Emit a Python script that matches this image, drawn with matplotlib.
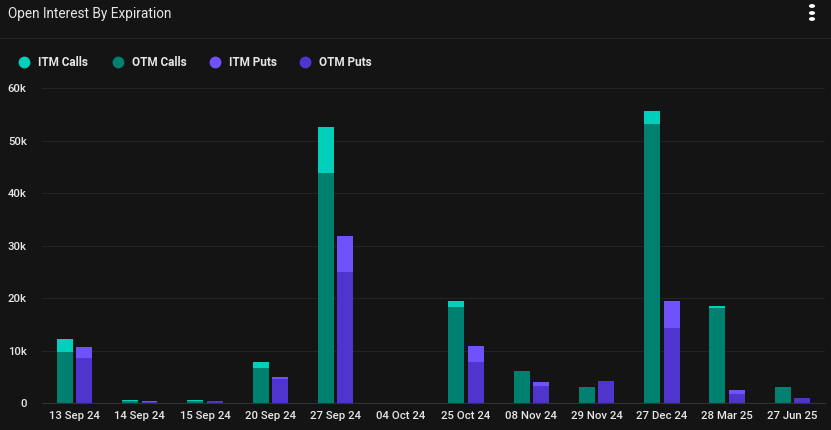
import matplotlib
matplotlib.use("Agg")
import matplotlib.pyplot as plt
import numpy as np
from matplotlib.ticker import FuncFormatter, MultipleLocator

plt.rcParams['font.family'] = ['Roboto', 'DejaVu Sans']

categories = ["13 Sep 24", "14 Sep 24", "15 Sep 24", "20 Sep 24", "27 Sep 24", "04 Oct 24",
              "25 Oct 24", "08 Nov 24", "29 Nov 24", "27 Dec 24", "28 Mar 25", "27 Jun 25"]
otm_calls = [9700, 400, 350, 6700, 43900, 0, 18300, 6000, 3000, 53100, 18100, 3000]
itm_calls = [2500, 200, 150, 1100, 8600, 0, 1100, 100, 100, 2500, 400, 100]
otm_puts = [8600, 250, 350, 4600, 24900, 0, 7800, 3300, 4200, 14200, 1700, 900]
itm_puts = [2100, 50, 50, 400, 6900, 0, 3100, 700, 50, 5300, 800, 100]

BG = "#141414"
C_ITM_CALL = "#00CFBC"
C_OTM_CALL = "#00806F"
C_ITM_PUT = "#7052FA"
C_OTM_PUT = "#4F35CE"
TXT = "#E6E6E6"

fig = plt.figure(figsize=(8.31, 4.30), dpi=100, facecolor=BG)
ax = fig.add_axes([0.0505, 0.0628, 0.9423, 0.7325], facecolor=BG)

x = np.arange(len(categories))
w = 0.245
off = 0.148
ax.bar(x - off, otm_calls, w, color=C_OTM_CALL, zorder=3, linewidth=0)
ax.bar(x - off, itm_calls, w, bottom=otm_calls, color=C_ITM_CALL, zorder=3, linewidth=0)
ax.bar(x + off, otm_puts, w, color=C_OTM_PUT, zorder=3, linewidth=0)
ax.bar(x + off, itm_puts, w, bottom=otm_puts, color=C_ITM_PUT, zorder=3, linewidth=0)

ax.set_xlim(-0.5, len(categories) - 0.5)
ax.set_ylim(0, 60000)
ax.yaxis.set_major_locator(MultipleLocator(10000))
ax.yaxis.set_major_formatter(FuncFormatter(lambda v, p: "0" if v == 0 else f"{int(v/1000)}k"))
ax.set_xticks(x)
ax.set_xticklabels(categories)
ax.tick_params(axis='both', length=0, colors=TXT, labelsize=8.2)
ax.tick_params(axis='y', pad=11)
ax.tick_params(axis='x', pad=6)
for lab in ax.get_xticklabels() + ax.get_yticklabels():
    lab.set_fontweight('medium')

ax.grid(axis='y', color="#232323", linewidth=0.8, zorder=0)
for s in ['top', 'right', 'left']:
    ax.spines[s].set_visible(False)
ax.spines['bottom'].set_color("#333333")
ax.spines['bottom'].set_linewidth(0.8)
ax.spines['bottom'].set_zorder(4)

# Title and header
fig.text(8 / 831, 1 - 14 / 430, "Open Interest By Expiration", color=TXT, fontsize=9.8,
         va='center', ha='left')
for yy in (6, 13, 19):
    fig.patches.append(matplotlib.patches.Circle((812 / 831, 1 - yy / 430), 0.0028,
                                                 transform=fig.transFigure, color="white",
                                                 figure=fig))
fig.add_artist(matplotlib.lines.Line2D([0, 1], [1 - 38 / 430, 1 - 38 / 430], color="#232323",
                                       linewidth=0.8, transform=fig.transFigure))

# Legend
items = [("ITM Calls", C_ITM_CALL, 24), ("OTM Calls", C_OTM_CALL, 118),
         ("ITM Puts", C_ITM_PUT, 215), ("OTM Puts", C_OTM_PUT, 305)]
for label, col, px in items:
    fig.add_artist(matplotlib.lines.Line2D([px / 831], [1 - 62 / 430], marker='o', markersize=7.5,
                                           color=col, linestyle='none',
                                           transform=fig.transFigure))
    fig.text((px + 14) / 831, 1 - 62 / 430, label, color=TXT, fontsize=8.5, fontweight='bold',
             va='center', ha='left')

fig.savefig("out.png", dpi=100, facecolor=BG)
